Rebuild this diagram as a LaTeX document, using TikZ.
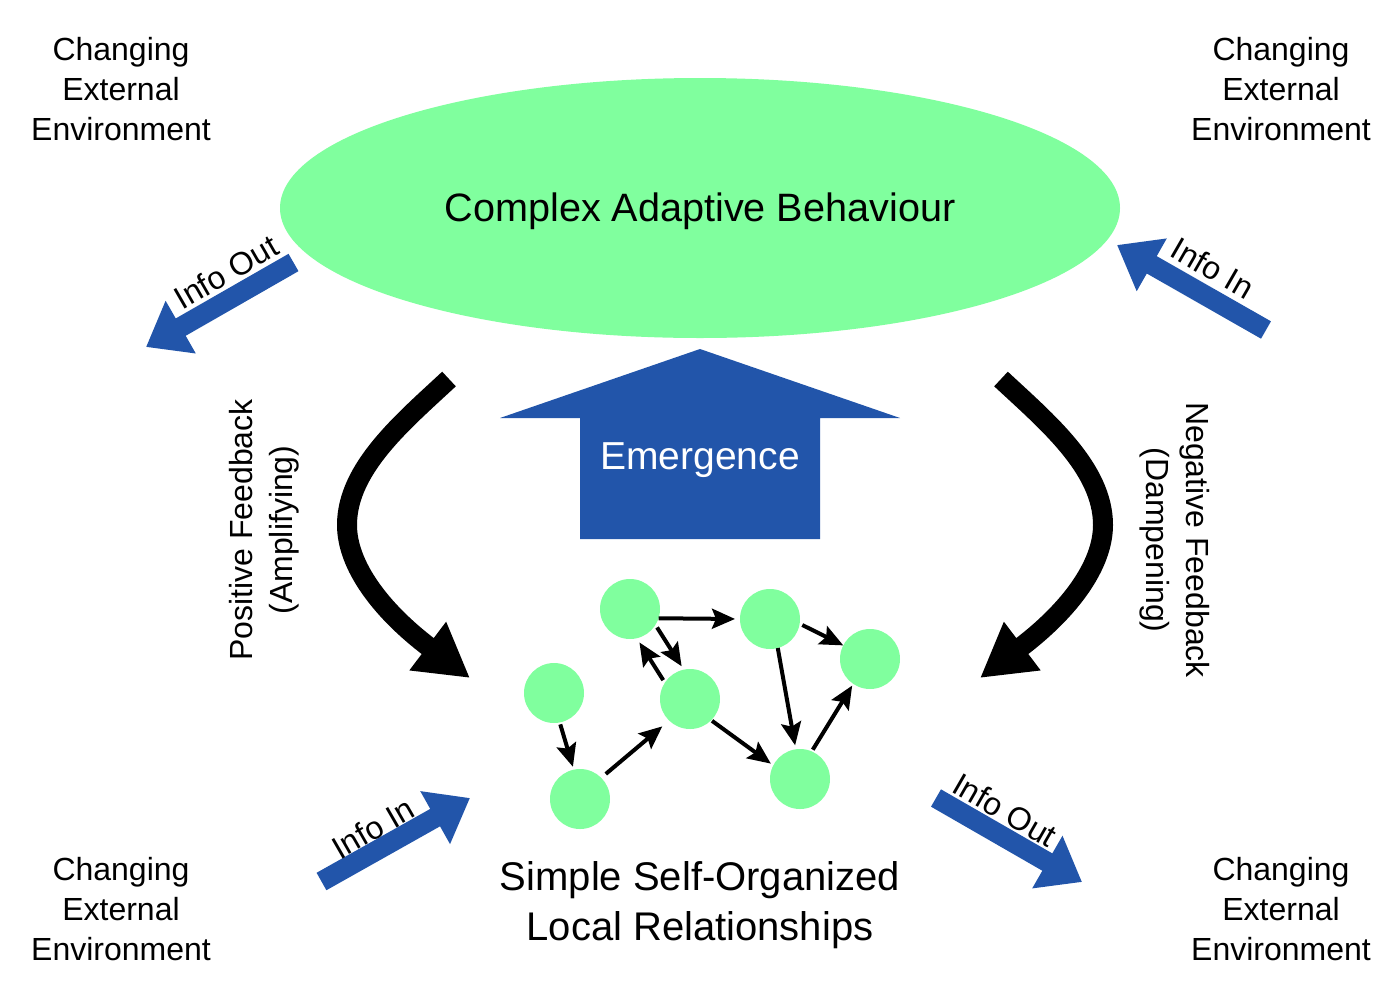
\documentclass[tikz,border=0pt]{standalone}
\usepackage{fontspec}
\setmainfont{Liberation Sans}
\usetikzlibrary{arrows.meta,shapes.geometric}
\definecolor{cgreen}{RGB}{128,255,158}
\definecolor{cblue}{RGB}{34,85,170}
\begin{document}
\begin{tikzpicture}[x=1pt,y=-1pt,
  envtext/.style={align=center,font=\fontsize{32}{40}\selectfont,inner sep=0pt},
  fbtext/.style={align=center,font=\fontsize{32}{40}\selectfont,inner sep=0pt},
  infotext/.style={font=\fontsize{32}{40}\selectfont,inner sep=0pt},
  bigtext/.style={font=\fontsize{40}{50}\selectfont,inner sep=0pt},
  agent/.style={circle,fill=cgreen,minimum size=60pt,inner sep=0pt,outer sep=0pt},
  link/.style={line width=4pt,-{Stealth[length=23pt,width=20pt,inset=4pt]}},
  fbarrow/.style={line width=20pt,-{Triangle[length=53pt,width=57pt]}},
  infoarrow/.style={line width=20pt,cblue,-{Triangle[length=40pt,width=58pt]}}
]
\fill[white] (0,0) rectangle (1400,1002);
\useasboundingbox (0,0) rectangle (1400,1002);

% corner texts
\node[envtext] (envtl) at (121,89) {Changing\\External\\Environment};
\node[envtext] (envtr) at (1281,89) {Changing\\External\\Environment};
\node[envtext] (envbl) at (121,909) {Changing\\External\\Environment};
\node[envtext] (envbr) at (1281,909) {Changing\\External\\Environment};

% top ellipse
\node[ellipse,fill=cgreen,minimum width=840pt,minimum height=260pt,inner sep=0pt] (cab) at (700,208) {};
\node[font=\fontsize{39.6}{50}\selectfont,inner sep=0pt,anchor=base] (cabtext) at (700,221) {Complex Adaptive Behaviour};

% emergence arrow
\fill[cblue] (700,349) -- (900,418) -- (820,418) -- (820,539) -- (580,539) -- (580,418) -- (500,418) -- cycle;
\node[font=\fontsize{39}{48}\selectfont,inner sep=0pt,anchor=base,white] (emtext) at (700,469.3) {Emergence};

% bottom text
\node[align=center,font=\fontsize{40}{50}\selectfont,inner sep=0pt] (sstext) at (700,905) {Simple Self-Organized\\Local Relationships};

% feedback texts
\node[fbtext,rotate=90] (pos) at (264,530) {Positive Feedback\\(Amplifying)};
\node[fbtext,rotate=-90] (neg) at (1175,540) {Negative Feedback\\(Dampening)};

% feedback arrows
\coordinate (pfs) at (449,379);
\coordinate (pfm) at (347,525);
\coordinate (pfe) at (470,678);
\draw[fbarrow] (pfs) .. controls (404,421) and (347,468) .. (pfm) .. controls (347,565) and (380,610) .. (pfe);
\coordinate (nfs) at (1001,379);
\coordinate (nfm) at (1103,525);
\coordinate (nfe) at (980,678);
\draw[fbarrow] (nfs) .. controls (1046,421) and (1103,468) .. (nfm) .. controls (1103,565) and (1070,610) .. (nfe);

% info arrows
\coordinate (tlt) at (293.5,262.5);
\coordinate (tlh) at (146,347);
\draw[infoarrow] (tlt) -- (tlh);
\node[infotext,rotate=30] (tltext) at (226,272) {Info Out};

\coordinate (trt) at (1266,330);
\coordinate (trh) at (1117,245);
\draw[infoarrow] (trt) -- (trh);
\node[infotext,rotate=-30] (trtext) at (1213,268) {Info In};

\coordinate (blt) at (321.5,881.5);
\coordinate (blh) at (470,798);
\draw[infoarrow] (blt) -- (blh);
\node[infotext,rotate=30] (bltext) at (373,828) {Info In};

\coordinate (brt) at (936,798);
\coordinate (brh) at (1082,882);
\draw[infoarrow] (brt) -- (brh);
\node[infotext,rotate=-30] (brtext) at (1005,810) {Info Out};

% network
\node[agent] (A) at (630,609) {};
\node[agent] (B) at (770,619) {};
\node[agent] (C) at (870,659) {};
\node[agent] (D) at (554,693) {};
\node[agent] (E) at (690,699) {};
\node[agent] (F) at (580,799) {};
\node[agent] (G) at (800,779) {};

\draw[link,shorten >=5pt] (A.-18) -- (B.west);
\draw[link,shorten <=3pt,shorten >=4pt] (A.-32) -- (E.102);
\draw[link,shorten <=3pt,shorten >=5pt] (E.147) -- (A.-77);
\draw[link,shorten <=3pt] (B.-9) -- (C.153);
\draw[link,shorten >=4pt] (B.-75) -- (G.98);
\draw[link,shorten <=2pt,shorten >=2pt] (G.67) -- (C.-124);
\draw[link,shorten <=2pt,shorten >=3pt] (D.-79) -- (F.102);
\draw[link,shorten <=6pt,shorten >=9pt] (F.45) -- (E.-134);
\draw[link,shorten <=1pt,shorten >=3pt] (E.-45) -- (G.153);
\end{tikzpicture}
\end{document}
